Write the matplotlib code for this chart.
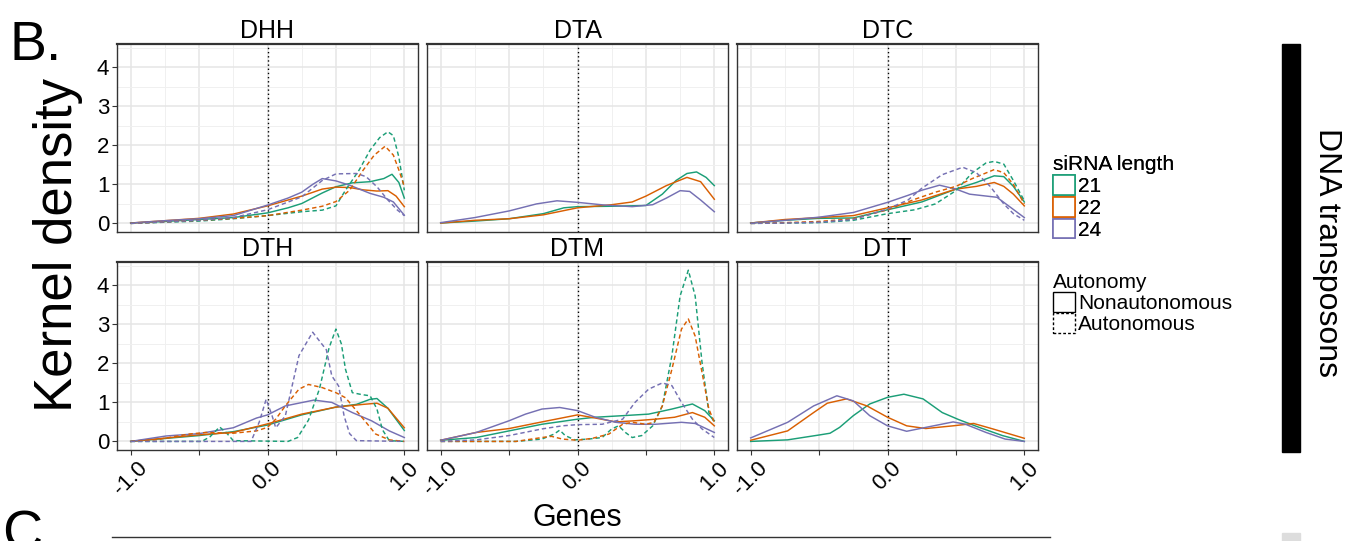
import matplotlib
matplotlib.use("Agg")
import matplotlib.pyplot as plt
from matplotlib.patches import Patch, Rectangle
from matplotlib.lines import Line2D

plt.rcParams["font.family"] = ["Liberation Sans", "DejaVu Sans"]

PANELS = ["DHH", "DTA", "DTC", "DTH", "DTM", "DTT"]
LENGTHS = ["21", "22", "24"]
COLORS = {"21": "#1B9E77", "22": "#D95F02", "24": "#7570B3"}
AUTONOMY = ["Nonautonomous", "Autonomous"]
XTICKS = [-1.0, -0.5, 0.0, 0.5, 1.0]
XTICKLABELS = ["-1.0", "", "0.0", "", "1.0"]
YTICKS = [0, 1, 2, 3, 4]

# ---- DHH
DHH_21_non_x = [-1, -0.75, -0.5, -0.25, 0, 0.15, 0.25, 0.4, 0.5, 0.62, 0.75, 0.85, 0.91, 0.96, 1.0]
DHH_21_non_y = [0.01, 0.05, 0.1, 0.15, 0.27, 0.4, 0.51, 0.78, 0.94, 1.04, 1.07, 1.15, 1.26, 1.05, 0.65]
DHH_22_non_x = [-1, -0.75, -0.5, -0.25, 0, 0.25, 0.4, 0.5, 0.6, 0.7, 0.8, 0.88, 0.94, 1.0]
DHH_22_non_y = [0.01, 0.07, 0.13, 0.24, 0.45, 0.7, 0.88, 0.93, 0.92, 0.86, 0.83, 0.84, 0.7, 0.43]
DHH_24_non_x = [-1, -0.75, -0.5, -0.25, 0, 0.15, 0.25, 0.33, 0.4, 0.5, 0.6, 0.75, 0.85, 0.92, 1.0]
DHH_24_non_y = [0.01, 0.07, 0.12, 0.2, 0.47, 0.65, 0.8, 1.0, 1.15, 1.09, 0.98, 0.77, 0.67, 0.55, 0.21]
DHH_21_aut_x = [-1, -0.75, -0.5, -0.25, 0, 0.25, 0.4, 0.5, 0.57, 0.67, 0.75, 0.82, 0.88, 0.92, 0.96, 1.0]
DHH_21_aut_y = [0, 0.03, 0.06, 0.12, 0.2, 0.3, 0.34, 0.45, 0.85, 1.37, 1.88, 2.2, 2.35, 2.25, 1.7, 0.85]
DHH_22_aut_x = [-1, -0.75, -0.5, -0.25, 0, 0.25, 0.4, 0.5, 0.6, 0.7, 0.78, 0.86, 0.92, 0.96, 1.0]
DHH_22_aut_y = [0, 0.04, 0.08, 0.13, 0.2, 0.34, 0.44, 0.56, 0.85, 1.37, 1.75, 1.98, 1.75, 1.37, 0.95]
DHH_24_aut_x = [-1, -0.75, -0.5, -0.25, 0, 0.25, 0.4, 0.5, 0.65, 0.72, 0.8, 0.88, 0.95, 1.0]
DHH_24_aut_y = [0, 0.04, 0.08, 0.15, 0.35, 0.68, 1.1, 1.27, 1.28, 1.2, 0.94, 0.6, 0.34, 0.2]

# ---- DTA (nonautonomous only)
DTA_21_non_x = [-1, -0.75, -0.5, -0.25, -0.1, 0, 0.25, 0.5, 0.62, 0.72, 0.8, 0.87, 0.94, 1.0]
DTA_21_non_y = [0.01, 0.06, 0.12, 0.25, 0.4, 0.43, 0.44, 0.46, 0.75, 1.1, 1.28, 1.32, 1.18, 0.97]
DTA_22_non_x = [-1, -0.75, -0.5, -0.25, 0, 0.25, 0.4, 0.5, 0.65, 0.8, 0.9, 1.0]
DTA_22_non_y = [0.01, 0.08, 0.12, 0.22, 0.4, 0.48, 0.55, 0.7, 0.97, 1.18, 1.07, 0.62]
DTA_24_non_x = [-1, -0.75, -0.5, -0.3, -0.15, 0, 0.2, 0.4, 0.55, 0.65, 0.75, 0.82, 0.9, 1.0]
DTA_24_non_y = [0.02, 0.15, 0.32, 0.5, 0.58, 0.54, 0.47, 0.43, 0.48, 0.65, 0.84, 0.82, 0.6, 0.3]

# ---- DTC
DTC_21_non_x = [-1, -0.75, -0.5, -0.25, 0, 0.25, 0.5, 0.65, 0.78, 0.85, 0.92, 1.0]
DTC_21_non_y = [0.01, 0.08, 0.13, 0.14, 0.35, 0.55, 0.88, 1.05, 1.22, 1.2, 0.95, 0.55]
DTC_22_non_x = [-1, -0.75, -0.5, -0.25, 0, 0.25, 0.5, 0.65, 0.78, 0.85, 0.92, 1.0]
DTC_22_non_y = [0.01, 0.1, 0.15, 0.2, 0.4, 0.6, 0.88, 0.95, 1.05, 0.95, 0.75, 0.45]
DTC_24_non_x = [-1, -0.75, -0.5, -0.25, 0, 0.15, 0.25, 0.38, 0.5, 0.6, 0.7, 0.8, 0.9, 1.0]
DTC_24_non_y = [0.01, 0.08, 0.16, 0.28, 0.54, 0.72, 0.85, 0.98, 0.88, 0.75, 0.71, 0.67, 0.41, 0.15]
DTC_21_aut_x = [-1, -0.75, -0.5, -0.25, 0, 0.2, 0.35, 0.5, 0.62, 0.72, 0.78, 0.85, 0.92, 1.0]
DTC_21_aut_y = [0, 0.01, 0.02, 0.08, 0.25, 0.35, 0.5, 0.84, 1.3, 1.55, 1.59, 1.52, 1.1, 0.58]
DTC_22_aut_x = [-1, -0.75, -0.5, -0.25, 0, 0.2, 0.35, 0.5, 0.62, 0.78, 0.85, 0.92, 1.0]
DTC_22_aut_y = [0, 0.02, 0.05, 0.12, 0.35, 0.62, 0.8, 0.95, 1.15, 1.38, 1.3, 1.0, 0.5]
DTC_24_aut_x = [-1, -0.75, -0.5, -0.25, 0, 0.15, 0.25, 0.4, 0.55, 0.65, 0.75, 0.85, 0.92, 1.0]
DTC_24_aut_y = [0, 0.01, 0.03, 0.1, 0.37, 0.6, 0.9, 1.25, 1.44, 1.3, 0.95, 0.5, 0.25, 0.08]

# ---- DTH
DTH_21_non_x = [-1, -0.5, -0.25, 0, 0.25, 0.5, 0.65, 0.75, 0.8, 0.88, 1.0]
DTH_21_non_y = [0, 0.15, 0.25, 0.42, 0.68, 0.88, 0.95, 1.08, 1.1, 0.85, 0.28]
DTH_22_non_x = [-1, -0.5, -0.25, 0, 0.25, 0.5, 0.7, 0.8, 0.88, 1.0]
DTH_22_non_y = [0, 0.17, 0.23, 0.45, 0.7, 0.88, 0.95, 0.98, 0.85, 0.35]
DTH_24_non_x = [-1, -0.74, -0.5, -0.25, -0.08, 0, 0.13, 0.34, 0.47, 0.62, 0.76, 0.89, 1.0]
DTH_24_non_y = [0, 0.14, 0.2, 0.35, 0.6, 0.68, 0.91, 1.06, 1.0, 0.74, 0.53, 0.27, 0.1]
DTH_21_aut_x = [-1, -0.48, -0.42, -0.35, -0.3, -0.25, 0.15, 0.22, 0.3, 0.38, 0.45, 0.5, 0.54, 0.57,
                0.62, 0.69, 0.75, 0.8, 0.84, 0.89, 1.0]
DTH_21_aut_y = [0, 0, 0.12, 0.37, 0.22, 0.02, 0, 0.1, 0.55, 1.35, 2.4, 2.88, 2.5, 1.85,
                1.25, 1.2, 1.17, 0.83, 0.3, 0.02, 0]
DTH_22_aut_x = [-1, -0.8, -0.57, -0.45, -0.25, -0.08, 0, 0.06, 0.13, 0.23, 0.3, 0.4, 0.5, 0.57,
                0.64, 0.72, 0.79, 0.89, 1.0]
DTH_22_aut_y = [0, 0.05, 0.19, 0.23, 0.21, 0.27, 0.36, 0.57, 0.91, 1.34, 1.46, 1.38, 1.25, 1.12,
                0.83, 0.49, 0.19, 0.04, 0]
DTH_24_aut_x = [-1, -0.12, -0.06, -0.01, 0.03, 0.06, 0.13, 0.23, 0.33, 0.43, 0.47, 0.52, 0.56,
                0.6, 0.65, 1.0]
DTH_24_aut_y = [0, 0, 0.5, 1.08, 0.7, 0.35, 0.65, 2.2, 2.8, 2.35, 1.68, 1.42, 0.65, 0.2, 0.02, 0]

# ---- DTM
DTM_21_non_x = [-1, -0.74, -0.5, -0.26, 0, 0.13, 0.33, 0.52, 0.69, 0.84, 0.93, 1.0]
DTM_21_non_y = [0.03, 0.1, 0.27, 0.44, 0.57, 0.62, 0.66, 0.7, 0.83, 0.96, 0.79, 0.53]
DTM_22_non_x = [-1, -0.74, -0.5, -0.26, 0, 0.13, 0.28, 0.42, 0.57, 0.71, 0.84, 0.93, 1.0]
DTM_22_non_y = [0.03, 0.23, 0.33, 0.5, 0.68, 0.6, 0.5, 0.53, 0.57, 0.62, 0.74, 0.62, 0.4]
DTM_24_non_x = [-1, -0.74, -0.5, -0.38, -0.26, -0.13, 0, 0.13, 0.28, 0.42, 0.57, 0.76, 0.86, 1.0]
DTM_24_non_y = [0.03, 0.23, 0.53, 0.7, 0.83, 0.87, 0.79, 0.62, 0.49, 0.44, 0.44, 0.49, 0.46, 0.23]
DTM_21_aut_x = [-1, -0.45, -0.26, -0.17, -0.13, -0.09, -0.02, 0.08, 0.18, 0.25, 0.3, 0.35, 0.4,
                0.47, 0.55, 0.62, 0.69, 0.75, 0.81, 0.86, 0.91, 0.96, 1.0]
DTM_21_aut_y = [0, 0, 0.06, 0.19, 0.29, 0.15, 0.04, 0.06, 0.1, 0.32, 0.4, 0.23, 0.1,
                0.15, 0.4, 0.91, 2.2, 3.73, 4.39, 3.73, 2.03, 0.74, 0.49]
DTM_22_aut_x = [-1, -0.45, -0.26, -0.19, -0.11, 0, 0.11, 0.23, 0.33, 0.4, 0.5, 0.56, 0.62, 0.69,
                0.76, 0.81, 0.86, 0.91, 0.96, 1.0]
DTM_22_aut_y = [0, 0, 0.1, 0.13, 0.06, 0.03, 0.08, 0.19, 0.44, 0.49, 0.44, 0.49, 0.91, 1.85,
                2.88, 3.14, 2.7, 1.77, 0.83, 0.49]
DTM_24_aut_x = [-1, -0.74, -0.5, -0.26, -0.11, 0, 0.18, 0.33, 0.42, 0.52, 0.62, 0.69, 0.76,
                0.84, 0.91, 1.0]
DTM_24_aut_y = [0, 0.04, 0.15, 0.32, 0.4, 0.43, 0.44, 0.57, 1.0, 1.34, 1.5, 1.43, 1.0,
                0.57, 0.32, 0.1]

# ---- DTT (nonautonomous only)
DTT_21_non_x = [-1, -0.73, -0.49, -0.42, -0.35, -0.25, -0.13, 0, 0.12, 0.26, 0.4, 0.52, 0.67, 0.84, 1.0]
DTT_21_non_y = [0, 0.04, 0.17, 0.21, 0.36, 0.66, 0.96, 1.13, 1.21, 1.09, 0.74, 0.56, 0.36, 0.15, 0]
DTT_22_non_x = [-1, -0.73, -0.54, -0.44, -0.3, -0.15, 0, 0.14, 0.28, 0.48, 0.63, 0.77, 1.0]
DTT_22_non_y = [0.03, 0.27, 0.74, 0.98, 1.09, 0.91, 0.62, 0.4, 0.33, 0.4, 0.46, 0.32, 0.08]
DTT_24_non_x = [-1, -0.73, -0.54, -0.37, -0.25, -0.13, 0, 0.14, 0.28, 0.48, 0.57, 0.72, 0.86, 1.0]
DTT_24_non_y = [0.09, 0.49, 0.91, 1.17, 1.04, 0.66, 0.4, 0.26, 0.36, 0.5, 0.44, 0.23, 0.06, 0]


def curves(panel):
    g = globals()
    out = []
    for aut in ("non", "aut"):
        for ln in LENGTHS:
            key = f"{panel}_{ln}_{aut}"
            if key + "_x" in g:
                out.append((ln, aut, g[key + "_x"], g[key + "_y"]))
    return out


def main():
    W, H = 1347, 541
    fig = plt.figure(figsize=(W / 100, H / 100), dpi=100)
    lefts = [117, 427, 737]
    tops = [44, 262]
    pw, ph = 301, 188

    for i, panel in enumerate(PANELS):
        r, c = divmod(i, 3)
        ax = fig.add_axes([lefts[c] / W, 1 - (tops[r] + ph) / H, pw / W, ph / H])
        ax.set_xlim(-1.1, 1.1)
        ax.set_ylim(-0.22, 4.6)
        ax.set_xticks(XTICKS)
        ax.set_xticks([-0.75, -0.25, 0.25, 0.75], minor=True)
        ax.set_yticks(YTICKS)
        ax.set_yticks([0.5, 1.5, 2.5, 3.5, 4.5], minor=True)
        ax.grid(which="major", color="#E5E5E5", lw=1.1)
        ax.grid(which="minor", color="#F0F0F0", lw=0.7)
        ax.set_axisbelow(True)
        ax.tick_params(which="minor", length=0)
        ax.tick_params(which="major", length=3.5, width=0.8, color="#333333",
                       labelsize=16, pad=2)
        for s in ax.spines.values():
            s.set_color("#333333")
            s.set_linewidth(1.0)
        ax.spines["top"].set_linewidth(1.6)

        if r == 1:
            ax.set_xticklabels(XTICKLABELS, rotation=45, ha="center")
        else:
            ax.tick_params(axis="x", which="major", length=0, labelbottom=False)
        if c == 0:
            ax.set_yticklabels([str(v) for v in YTICKS])
        else:
            ax.tick_params(axis="y", which="major", length=0, labelleft=False)

        ax.axvline(0, color="black", lw=1.0, ls=(0, (1, 2)), zorder=1)
        for ln, aut, xs, ys in curves(panel):
            ls = "-" if aut == "non" else (0, (3, 2))
            ax.plot(xs, ys, color=COLORS[ln], lw=1.05, ls=ls, zorder=3)
        ax.set_title(panel, fontsize=18, pad=4)

    # legends
    len_handles = [Patch(facecolor="white", edgecolor=COLORS[l], lw=1.2) for l in LENGTHS]
    leg1 = fig.legend(len_handles, LENGTHS, title="siRNA length", loc="upper left",
                      bbox_to_anchor=(1043 / W, 1 - 145 / H), frameon=False,
                      fontsize=15, title_fontsize=15, handlelength=1.05, handleheight=1.05,
                      handletextpad=0.15, labelspacing=0.05, borderpad=0, alignment="left")
    aut_handles = [Patch(facecolor="white", edgecolor="black", lw=1.0),
                   Patch(facecolor="white", edgecolor="black", lw=1.0, ls=(0, (2, 1.5)))]
    fig.legend(aut_handles, AUTONOMY, title="Autonomy", loc="upper left",
               bbox_to_anchor=(1043 / W, 1 - 263 / H), frameon=False,
               fontsize=15, title_fontsize=15, handlelength=1.05, handleheight=1.05,
               handletextpad=0.15, labelspacing=0.0, borderpad=0, alignment="left")
    fig.add_artist(leg1)

    # labels and decorations
    fig.text(58 / W, 1 - 245 / H, "Kernel density", rotation=90, fontsize=38,
             ha="center", va="center")
    fig.text(577 / W, 1 - 518 / H, "Genes", fontsize=22, ha="center", va="center")
    fig.text(10 / W, 1 - 46 / H, "B.", fontsize=40, ha="left", va="center")
    fig.text(1327 / W, 1 - 253 / H, "DNA transposons", rotation=-90, fontsize=23,
             ha="center", va="center")
    fig.add_artist(Rectangle((1282 / W, 1 - 452 / H), 18 / W, 408 / H,
                             transform=fig.transFigure, color="black"))
    fig.add_artist(Line2D([112 / W, 1050 / W], [1 - 537 / H, 1 - 537 / H],
                          transform=fig.transFigure, color="#333333", lw=1.0))
    fig.add_artist(Rectangle((1282 / W, 0), 18 / W, 8 / H, transform=fig.transFigure,
                             color="#DDDDDD"))
    fig.text(2 / W, -20 / H, "C.", fontsize=40, ha="left", va="bottom")

    fig.savefig("out.png", dpi=100)


if __name__ == "__main__":
    main()
